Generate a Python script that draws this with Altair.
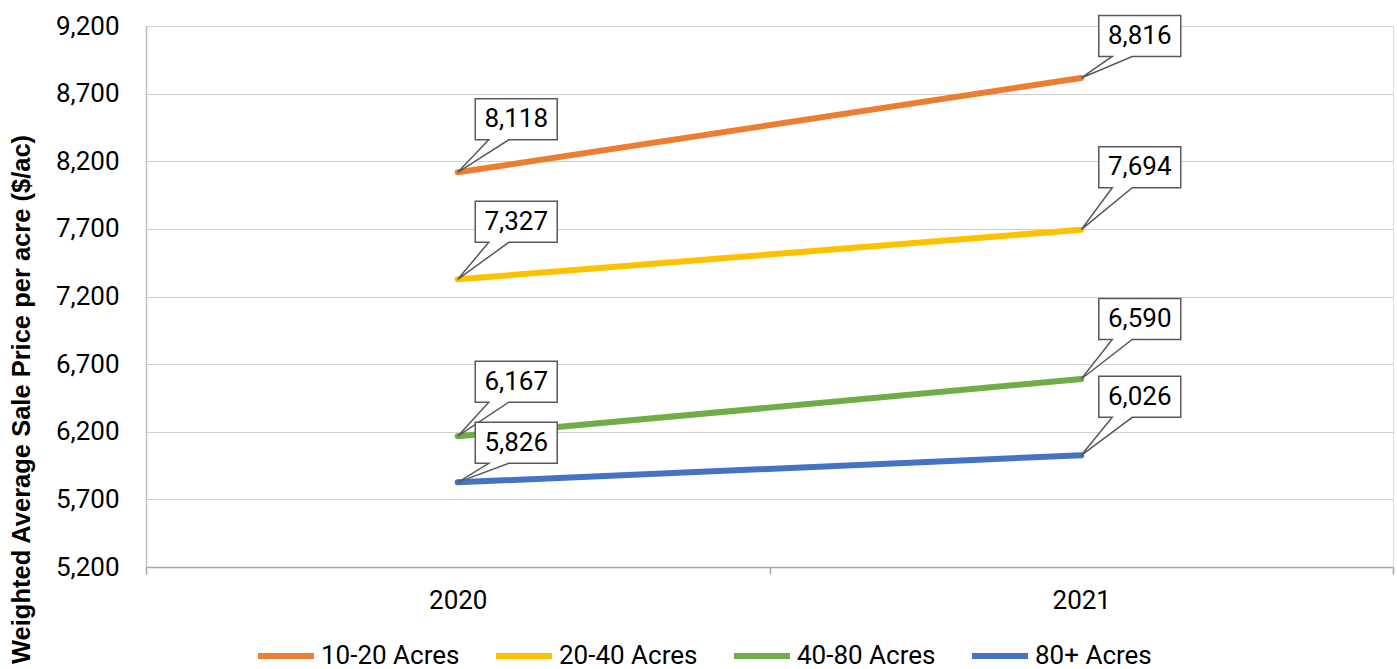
import altair as alt
import pandas as pd

# Weighted average sale price per acre by parcel size, 2020 vs 2021
years = ["2020", "2021"]
series = ["10-20 Acres", "20-40 Acres", "40-80 Acres", "80+ Acres"]
prices_2020 = [8118, 7327, 6167, 5826]
prices_2021 = [8816, 7694, 6590, 6026]
colors = ["#ED7D31", "#FFC000", "#70AD47", "#4472C4"]

rows = []
for s, a, b in zip(series, prices_2020, prices_2021):
    rows.append({"series": s, "year": years[0], "price": a})
    rows.append({"series": s, "year": years[1], "price": b})
df = pd.DataFrame(rows)

# Vertical lift (px) of each callout box centre above its point
callout_lift = {
    ("10-20 Acres", "2020"): -53, ("10-20 Acres", "2021"): -42,
    ("20-40 Acres", "2020"): -57.5, ("20-40 Acres", "2021"): -62.5,
    ("40-80 Acres", "2020"): -54.5, ("40-80 Acres", "2021"): -60,
    ("80+ Acres", "2020"): -39.5, ("80+ Acres", "2021"): -58.5,
}
BOX_L, BOX_R, HALF_H = 17.5, 99.5, 20.5
PTR_A, PTR_B = 31, 51


def callout_path(lift):
    top, bot = lift - HALF_H, lift + HALF_H
    return (f"M0,0 L{PTR_A},{bot} L{BOX_L},{bot} L{BOX_L},{top} "
            f"L{BOX_R},{top} L{BOX_R},{bot} L{PTR_B},{bot} Z")


W, H = 1247, 541
FONT = "Roboto"

x_enc = alt.X(
    "year:N",
    scale=alt.Scale(type="band", paddingInner=0, paddingOuter=0),
    axis=alt.Axis(
        title=None, labelAngle=0, tickBand="extent", tickSize=7,
        tickColor="#a6a6a6", tickWidth=1.5, domainColor="#a6a6a6",
        domainWidth=1.5, labelFont=FONT, labelFontSize=26,
        labelColor="#000000", labelPadding=13, grid=False,
    ),
)
y_enc = alt.Y(
    "price:Q",
    scale=alt.Scale(domain=[5200, 9200], nice=False, zero=False),
    axis=alt.Axis(
        values=list(range(5200, 9201, 500)), format=",.0f", tickSize=0,
        labelFont=FONT, labelFontSize=26, labelColor="#000000",
        labelPadding=27, domainColor="#bfbfbf", domainWidth=1.5,
        gridColor="#d0d0d0", gridWidth=1.2,
        title="Weighted Average Sale Price per acre ($/ac)",
        titleFont="Liberation Sans", titleFontSize=25.5, titleFontWeight="bold",
        titleColor="#000000", titleAngle=-90, titleX=-125, titleY=373,
        titleAlign="center", titleBaseline="middle",
    ),
)

lines = alt.Chart(df).mark_line(strokeWidth=6, strokeCap="round").encode(
    x=x_enc,
    y=y_enc,
    color=alt.Color(
        "series:N",
        scale=alt.Scale(domain=series, range=colors),
        legend=alt.Legend(
            title=None, orient="none", direction="horizontal",
            legendX=109, legendY=599, padding=0,
            symbolType="stroke", symbolSize=3136, symbolStrokeWidth=6,
            labelFont=FONT, labelFontSize=26, labelColor="#000000",
            labelOffset=4, columnPadding=24, labelLimit=300,
        ),
    ),
)

layers = [lines]
for (s, yr), lift in callout_lift.items():
    base = alt.Chart(df).transform_filter(
        (alt.datum.series == s) & (alt.datum.year == yr)
    )
    box = base.mark_point(
        shape=callout_path(lift), size=4, filled=True, fill="white",
        stroke="#595959", strokeWidth=1.5, opacity=1,
    ).encode(x=x_enc, y=y_enc)
    label = base.mark_text(
        font=FONT, fontSize=26, color="#000000", align="center",
        baseline="middle", dx=(BOX_L + BOX_R) / 2, dy=lift,
    ).encode(x=x_enc, y=y_enc, text=alt.Text("price:Q", format=","))
    layers += [box, label]

chart = alt.layer(*layers).properties(
    width=W, height=H,
    autosize=alt.AutoSizeParams(type="none"),
    padding={"left": 146, "top": 26, "right": 4, "bottom": 102},
).configure_view(strokeWidth=0).configure(background="white")

chart.save("out.html", embed_options={"renderer": "svg", "actions": False})
